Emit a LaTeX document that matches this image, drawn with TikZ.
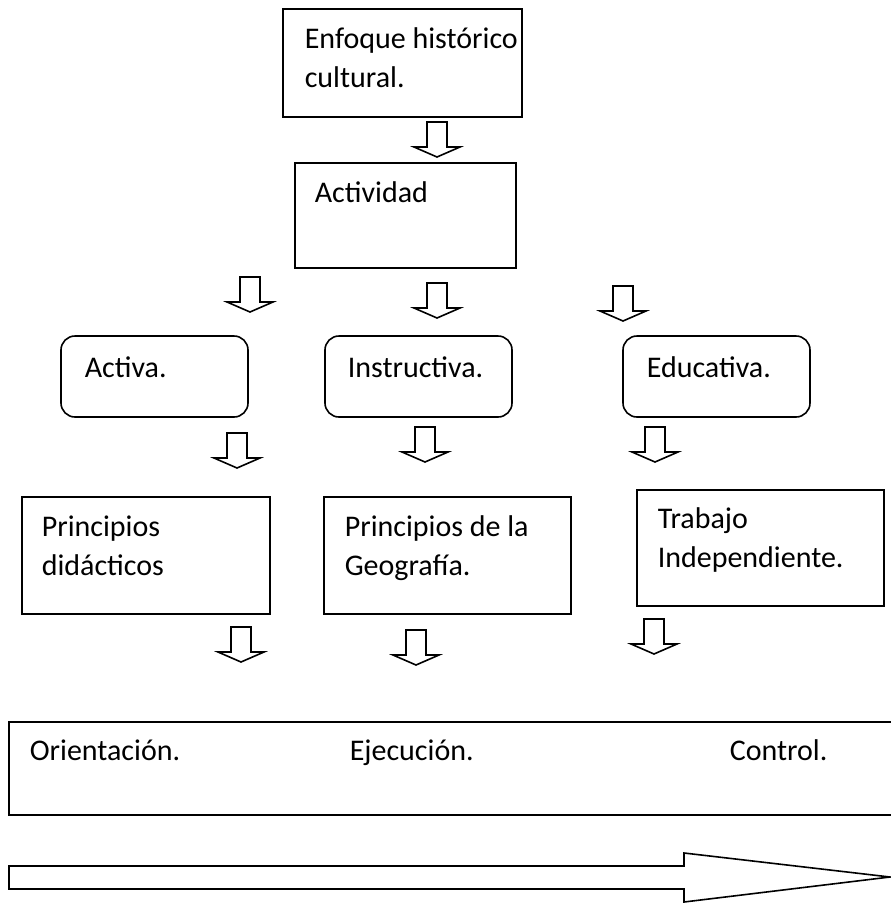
\documentclass[tikz,border=0pt]{standalone}
\usepackage{fontspec}
\setmainfont{Carlito}
\begin{document}
\begin{tikzpicture}[x=1pt,y=-1pt,
  line width=1.6pt,
  box/.style={draw, line width=1.6pt, inner sep=0pt, outer sep=0pt, anchor=north west},
  rbox/.style={box, rounded corners=14pt},
  txt/.style={anchor=base west, inner sep=0pt, font=\fontsize{30}{39}\selectfont},
  blk/.style={draw, line width=1.6pt, fill=white, line join=miter}]
\useasboundingbox (0,0) rectangle (891,903);

% boxes
\node[box,  minimum width=239, minimum height=108] (enfoque)   at (283,9)   {};
\node[box,  minimum width=221, minimum height=105] (actividad) at (295,163) {};
\node[rbox, minimum width=187, minimum height=81]  (activa)    at (61,336)  {};
\node[rbox, minimum width=187, minimum height=81]  (instr)     at (325,336) {};
\node[rbox, minimum width=187, minimum height=81]  (educ)      at (623,336) {};
\node[box,  minimum width=248, minimum height=117] (princ)     at (22,497)  {};
\node[box,  minimum width=247, minimum height=117] (geo)       at (324,497) {};
\node[box,  minimum width=247, minimum height=116] (trabajo)   at (637,490) {};
\node[box,  minimum width=900, minimum height=93]  (etapas)    at (9,722)   {};

% texts
\node[txt] (tenfoque) at (304,48) {\begin{tabular}[t]{@{}l@{}}Enfoque histórico\\cultural.\end{tabular}};
\node[txt] (tactividad) at (314,202) {Actividad};
\node[txt] (tactiva) at (84,377) {Activa.};
\node[txt] (tinstr) at (347,377) {Instructiva.};
\node[txt] (teduc) at (646,377) {Educativa.};
\node[txt] (tprinc) at (41,536) {\begin{tabular}[t]{@{}l@{}}Principios\\didácticos\end{tabular}};
\node[txt] (tgeo) at (344,536) {\begin{tabular}[t]{@{}l@{}}Principios de la\\Geografía.\end{tabular}};
\node[txt] (ttrabajo) at (657,528) {\begin{tabular}[t]{@{}l@{}}Trabajo\\Independiente.\end{tabular}};
\node[txt] (torient) at (29,760) {Orientación.};
\node[txt] (tejec) at (349,760) {Ejecución.};
\node[txt] (tcontrol) at (729,760) {Control.};

% block arrow anchors (top centre of each stem)
\coordinate (a0) at (437,122);
\coordinate (a1) at (250,277);
\coordinate (a2) at (437,283);
\coordinate (a3) at (623,286);
\coordinate (b1) at (237,433);
\coordinate (b2) at (425,427);
\coordinate (b3) at (655,427);
\coordinate (c1) at (241,627);
\coordinate (c2) at (416,630);
\coordinate (c3) at (654,619);
\foreach \p in {a0,a1,a2,a3,b1,b2,b3,c1,c2,c3}{
  \draw[blk] (\p) ++(-10,0) -- ++(0,25) -- ++(-13,0) -- ++(23,10) -- ++(23,-10) -- ++(-13,0) -- ++(0,-25) -- cycle;
}

% long arrow
\coordinate (la) at (9,866);
\draw[blk] (la) -- ++(675,0) -- ++(0,-13) -- (890,877) -- (684,902) -- ++(0,-13) -- (9,889) -- cycle;
\end{tikzpicture}
\end{document}
